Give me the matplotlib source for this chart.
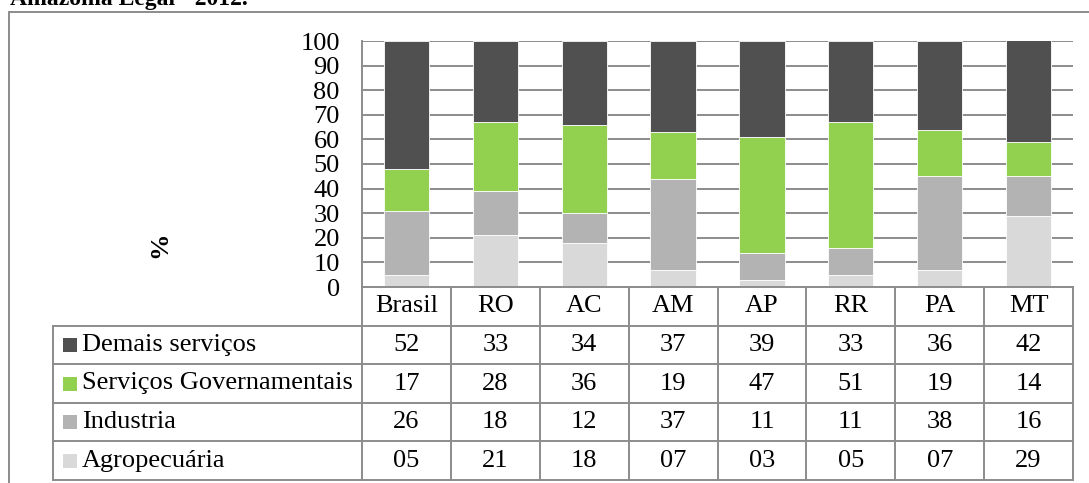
import matplotlib
matplotlib.use("Agg")
import matplotlib.pyplot as plt
from matplotlib.patches import Rectangle
import numpy as np

plt.rcParams["font.family"] = ["Liberation Serif", "DejaVu Serif"]

# Participação dos setores no PIB (%), 2012
regions = ["Brasil", "RO", "AC", "AM", "AP", "RR", "PA", "MT"]
demais_servicos = [52, 33, 34, 37, 39, 33, 36, 42]
servicos_gov = [17, 28, 36, 19, 47, 51, 19, 14]
industria = [26, 18, 12, 37, 11, 11, 38, 16]
agropecuaria = [5, 21, 18, 7, 3, 5, 7, 29]

series_names = ["Demais serviços", "Serviços Governamentais", "Industria", "Agropecuária"]
series_colors = ["#505050", "#92d050", "#b3b3b3", "#d9d9d9"]
y_ticks = list(range(0, 101, 10))

title = "Amazônia Legal - 2012."
y_label = "%"

W, H = 1089, 483
FS = 19
GRAY = "#8c8c8c"


def frame(x0, y0, x1, y1):
    return [x0 / W, 1 - y1 / H, (x1 - x0) / W, (y1 - y0) / H]


fig = plt.figure(figsize=(W / 100, H / 100), dpi=100)

# outer border of the figure panel
fig.add_artist(Rectangle((8.5 / W, 1 - 520 / H), 1200 / W, (520 - 11.5) / H,
                         transform=fig.transFigure, fill=False,
                         edgecolor=GRAY, linewidth=1.4))

fig.text(10 / W, 1 - 5 / H, title, fontsize=17, fontweight="bold",
         ha="left", va="baseline")

# stacked bars
ax = fig.add_axes(frame(362, 41, 1073, 287))
x = np.arange(len(regions))
stack = [agropecuaria, industria, servicos_gov, demais_servicos]
colors_stack = series_colors[::-1]
bottom = np.zeros(len(regions))
for vals, col in zip(stack, colors_stack):
    ax.bar(x, vals, 0.51, bottom=bottom, color=col, edgecolor="white",
           linewidth=0.6, zorder=3)
    bottom += np.array(vals)

ax.set_xlim(-0.5, len(regions) - 0.5)
ax.set_ylim(0, 100)
ax.set_yticks(y_ticks)
ax.set_xticks([])
ax.yaxis.grid(True, color=GRAY, linewidth=1.4)
ax.set_axisbelow(True)
ax.tick_params(axis="y", length=0, pad=16, labelsize=FS)
for s in ["top", "right", "bottom"]:
    ax.spines[s].set_visible(False)
ax.spines["left"].set_color(GRAY)
ax.spines["left"].set_linewidth(1.4)

fig.text(160 / W, 1 - 245 / H, y_label, rotation=90, fontsize=FS,
         fontweight="bold", ha="center", va="center")

# data table below the bars
col_w = 711 / len(regions)
label_w = (362 - 53) / col_w
tab = fig.add_axes(frame(53, 287, 1073, 480))
left = -0.5 - label_w
right = len(regions) - 0.5
tab.set_xlim(left, right)
tab.set_ylim(5, 0)
tab.axis("off")

line_kw = dict(color=GRAY, linewidth=1.4, clip_on=False, solid_capstyle="projecting")
tab.plot([-0.5, right], [0, 0], **line_kw)
for r in range(1, 6):
    tab.plot([left, right], [r, r], **line_kw)
for k in range(len(regions) + 1):
    tab.plot([-0.5 + k, -0.5 + k], [0, 5], **line_kw)
tab.plot([left, left], [1, 5], **line_kw)

for i, reg in enumerate(regions):
    tab.text(i, 0.5, reg, fontsize=FS, ha="center", va="center")

table_rows = [demais_servicos, servicos_gov, industria, agropecuaria]
sq_w = 14 / col_w
sq_h = 14 / (193 / 5)
for r, (name, col, vals) in enumerate(zip(series_names, series_colors, table_rows)):
    yc = r + 1.5
    tab.add_patch(Rectangle((left + 10 / col_w, yc - sq_h / 2), sq_w, sq_h,
                            facecolor=col, edgecolor="none"))
    tab.text(left + 29 / col_w, yc, name, fontsize=FS, ha="left", va="center")
    for i, v in enumerate(vals):
        tab.text(i, yc, f"{v:02d}", fontsize=FS, ha="center", va="center")

fig.savefig("out.png", dpi=100)
